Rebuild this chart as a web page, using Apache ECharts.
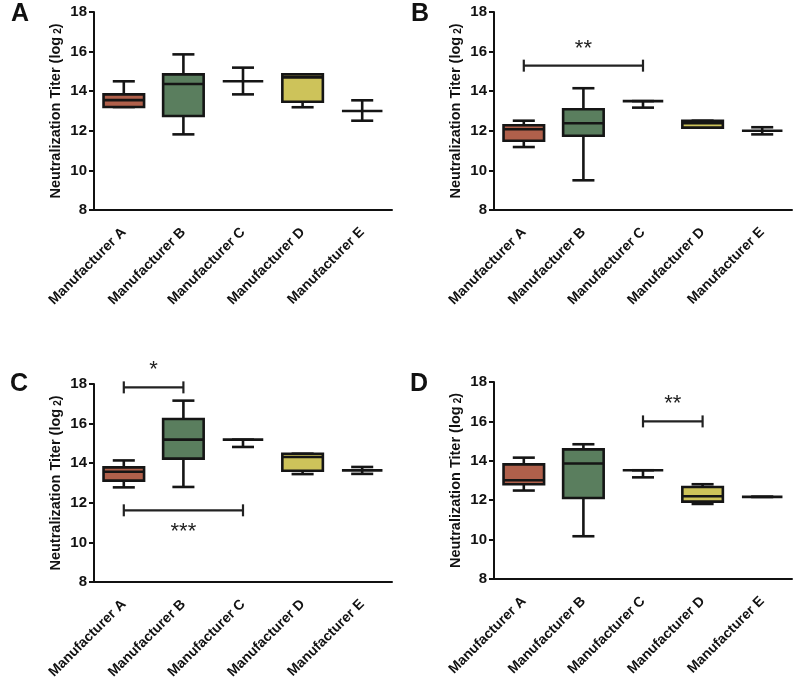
<!DOCTYPE html>
<html>
<head>
<meta charset="utf-8">
<script src="https://cdn.jsdelivr.net/npm/echarts@6/dist/echarts.min.js"></script>
<style>
  html, body { margin: 0; padding: 0; background: #fff; }
  #main { width: 800px; height: 691px; }
</style>
</head>
<body>
<div id="main"></div>
<script>
// categories
const categories = ["Manufacturer A", "Manufacturer B", "Manufacturer C", "Manufacturer D", "Manufacturer E"];
const yTicks = [8, 10, 12, 14, 16, 18];

// box values per panel: [min, q1, median, q3, max]
const panelA = [
  [13.2, 13.2, 13.55, 13.84, 14.5],
  [11.82, 12.75, 14.36, 14.85, 15.86],
  [13.84, 14.5, 14.5, 14.5, 15.19],
  [13.19, 13.47, 14.7, 14.85, 14.85],
  [12.51, 13.0, 13.0, 13.0, 13.54],
];
const panelB = [
  [11.18, 11.5, 12.08, 12.28, 12.51],
  [9.5, 11.75, 12.38, 13.09, 14.15],
  [13.17, 13.5, 13.5, 13.5, 13.5],
  [12.16, 12.16, 12.38, 12.51, 12.51],
  [11.82, 12.0, 12.0, 12.0, 12.18],
];
const panelC = [
  [12.78, 13.12, 13.57, 13.79, 14.14],
  [12.8, 14.23, 15.19, 16.23, 17.16],
  [14.82, 15.19, 15.19, 15.19, 15.19],
  [13.45, 13.62, 14.31, 14.48, 14.48],
  [13.46, 13.64, 13.64, 13.64, 13.81],
];
const panelD = [
  [12.49, 12.81, 13.01, 13.82, 14.16],
  [10.17, 12.11, 13.86, 14.58, 14.84],
  [13.16, 13.52, 13.52, 13.52, 13.52],
  [11.81, 11.93, 12.2, 12.67, 12.81],
  [12.17, 12.17, 12.17, 12.17, 12.17],
];

// significance brackets: [from category, to category, y value]
const sigA = [];
const sigB = [[0, 2, 15.29]];
const sigC = [[0, 1, 17.83], [0, 2, 11.62]];
const sigD = [[2, 3, 16.0]];
const sigLabelsA = [];
const sigLabelsB = ["**"];
const sigLabelsC = ["*", "***"];
const sigLabelsD = ["**"];
const sigBelowC = [false, true];

const panelLetters = ["A", "B", "C", "D"];

const boxColors = ["#b0604b", "#5a7e5e", null, "#cdc35a", null];

const chart = echarts.init(document.getElementById("main"));

const grids = [
  { left: 94, top: 12, width: 298, height: 198 },
  { left: 494, top: 12, width: 298, height: 198 },
  { left: 94, top: 384, width: 298, height: 198 },
  { left: 494, top: 382, width: 298, height: 197 },
];

function renderBox(params, api) {
  const i = api.value(0);
  const p = [1, 2, 3, 4, 5].map((d) => api.coord([i, api.value(d)]));
  const band = api.size([1, 0])[0];
  const cx = p[0][0];
  const bw = band * 0.68;
  const cw = band * 0.37;
  const line = (x1, y1, x2, y2) => ({
    type: "line",
    shape: { x1, y1, x2, y2 },
    style: { stroke: "#151515", lineWidth: 2.6 },
  });
  const children = [
    line(cx, p[4][1], cx, p[3][1]),
    line(cx, p[0][1], cx, p[1][1]),
    line(cx - cw / 2, p[4][1], cx + cw / 2, p[4][1]),
    line(cx - cw / 2, p[0][1], cx + cw / 2, p[0][1]),
  ];
  const h = p[1][1] - p[3][1];
  if (h > 0.5) {
    children.push({
      type: "rect",
      shape: { x: cx - bw / 2, y: p[3][1], width: bw, height: h },
      style: { fill: boxColors[i] || "none", stroke: "#151515", lineWidth: 2.6 },
    });
  }
  children.push(line(cx - bw / 2, p[2][1], cx + bw / 2, p[2][1]));
  return { type: "group", children };
}

function makeBracketRenderer(labels, below) {
  return function (params, api) {
    const a = api.coord([api.value(0), api.value(2)]);
    const b = api.coord([api.value(1), api.value(2)]);
    const isBelow = below && below[params.dataIndex];
    const st = { stroke: "#222", lineWidth: 2.2 };
    return {
      type: "group",
      children: [
        { type: "line", shape: { x1: a[0], y1: a[1], x2: b[0], y2: b[1] }, style: st },
        { type: "line", shape: { x1: a[0], y1: a[1] - 6, x2: a[0], y2: a[1] + 6 }, style: st },
        { type: "line", shape: { x1: b[0], y1: b[1] - 6, x2: b[0], y2: b[1] + 6 }, style: st },
        {
          type: "text",
          style: {
            text: labels[params.dataIndex],
            x: (a[0] + b[0]) / 2,
            y: isBelow ? a[1] + 22 : a[1] - 17,
            align: "center",
            verticalAlign: "middle",
            font: "22px 'Liberation Sans', Arial, sans-serif",
            fill: "#222",
          },
        },
      ],
    };
  };
}

const panels = [panelA, panelB, panelC, panelD];
const sigs = [sigA, sigB, sigC, sigD];
const sigLabels = [sigLabelsA, sigLabelsB, sigLabelsC, sigLabelsD];
const sigBelow = [null, null, sigBelowC, null];

const xAxes = grids.map((g, k) => ({
  type: "category",
  gridIndex: k,
  data: categories,
  boundaryGap: true,
  axisLine: { lineStyle: { color: "#111", width: 2 } },
  axisTick: { alignWithLabel: true, length: 6, lineStyle: { color: "#111", width: 2 } },
  axisLabel: {
    interval: 0,
    rotate: 45,
    margin: 20,
    color: "#111",
    fontWeight: "bold",
    fontSize: 14,
    fontFamily: "'Liberation Sans', Arial, sans-serif",
  },
}));

const yAxes = grids.map((g, k) => ({
  type: "value",
  gridIndex: k,
  min: yTicks[0],
  max: yTicks[yTicks.length - 1],
  interval: 2,
  splitLine: { show: false },
  axisLine: { show: true, lineStyle: { color: "#111", width: 2 } },
  axisTick: { show: true, length: 5, lineStyle: { color: "#111", width: 2 } },
  axisLabel: {
    margin: 7,
    color: "#111",
    fontWeight: "bold",
    fontSize: 15,
    fontFamily: "'Liberation Sans', Arial, sans-serif",
  },
  name: "Neutralization Titer (log{s|2})",
  nameLocation: "middle",
  nameGap: 31,
  nameTextStyle: {
    color: "#111",
    fontWeight: "bold",
    fontSize: 14.5,
    fontFamily: "'Liberation Sans', Arial, sans-serif",
    rich: {
      s: { fontSize: 10, fontWeight: "bold", padding: [5, 0, 0, 3], fontFamily: "'Liberation Sans', Arial, sans-serif" },
    },
  },
}));

const series = [];
panels.forEach((vals, k) => {
  series.push({
    type: "custom",
    xAxisIndex: k,
    yAxisIndex: k,
    renderItem: renderBox,
    encode: { x: 0, y: [1, 2, 3, 4, 5] },
    data: vals.map((v, i) => [i].concat(v)),
    silent: true,
    clip: false,
  });
  if (sigs[k].length) {
    series.push({
      type: "custom",
      xAxisIndex: k,
      yAxisIndex: k,
      renderItem: makeBracketRenderer(sigLabels[k], sigBelow[k]),
      encode: { x: [0, 1], y: 2 },
      data: sigs[k],
      silent: true,
      clip: false,
    });
  }
});

const letterPos = [
  [11, 2],
  [411, 2],
  [10, 372],
  [410, 372],
];

chart.setOption({
  animation: false,
  backgroundColor: "#fff",
  grid: grids,
  xAxis: xAxes,
  yAxis: yAxes,
  series: series,
  graphic: panelLetters.map((t, k) => ({
    type: "text",
    left: letterPos[k][0],
    top: letterPos[k][1],
    style: { text: t, font: "bold 25px 'Liberation Sans', Arial, sans-serif", fill: "#111" },
  })),
});
</script>
</body>
</html>
